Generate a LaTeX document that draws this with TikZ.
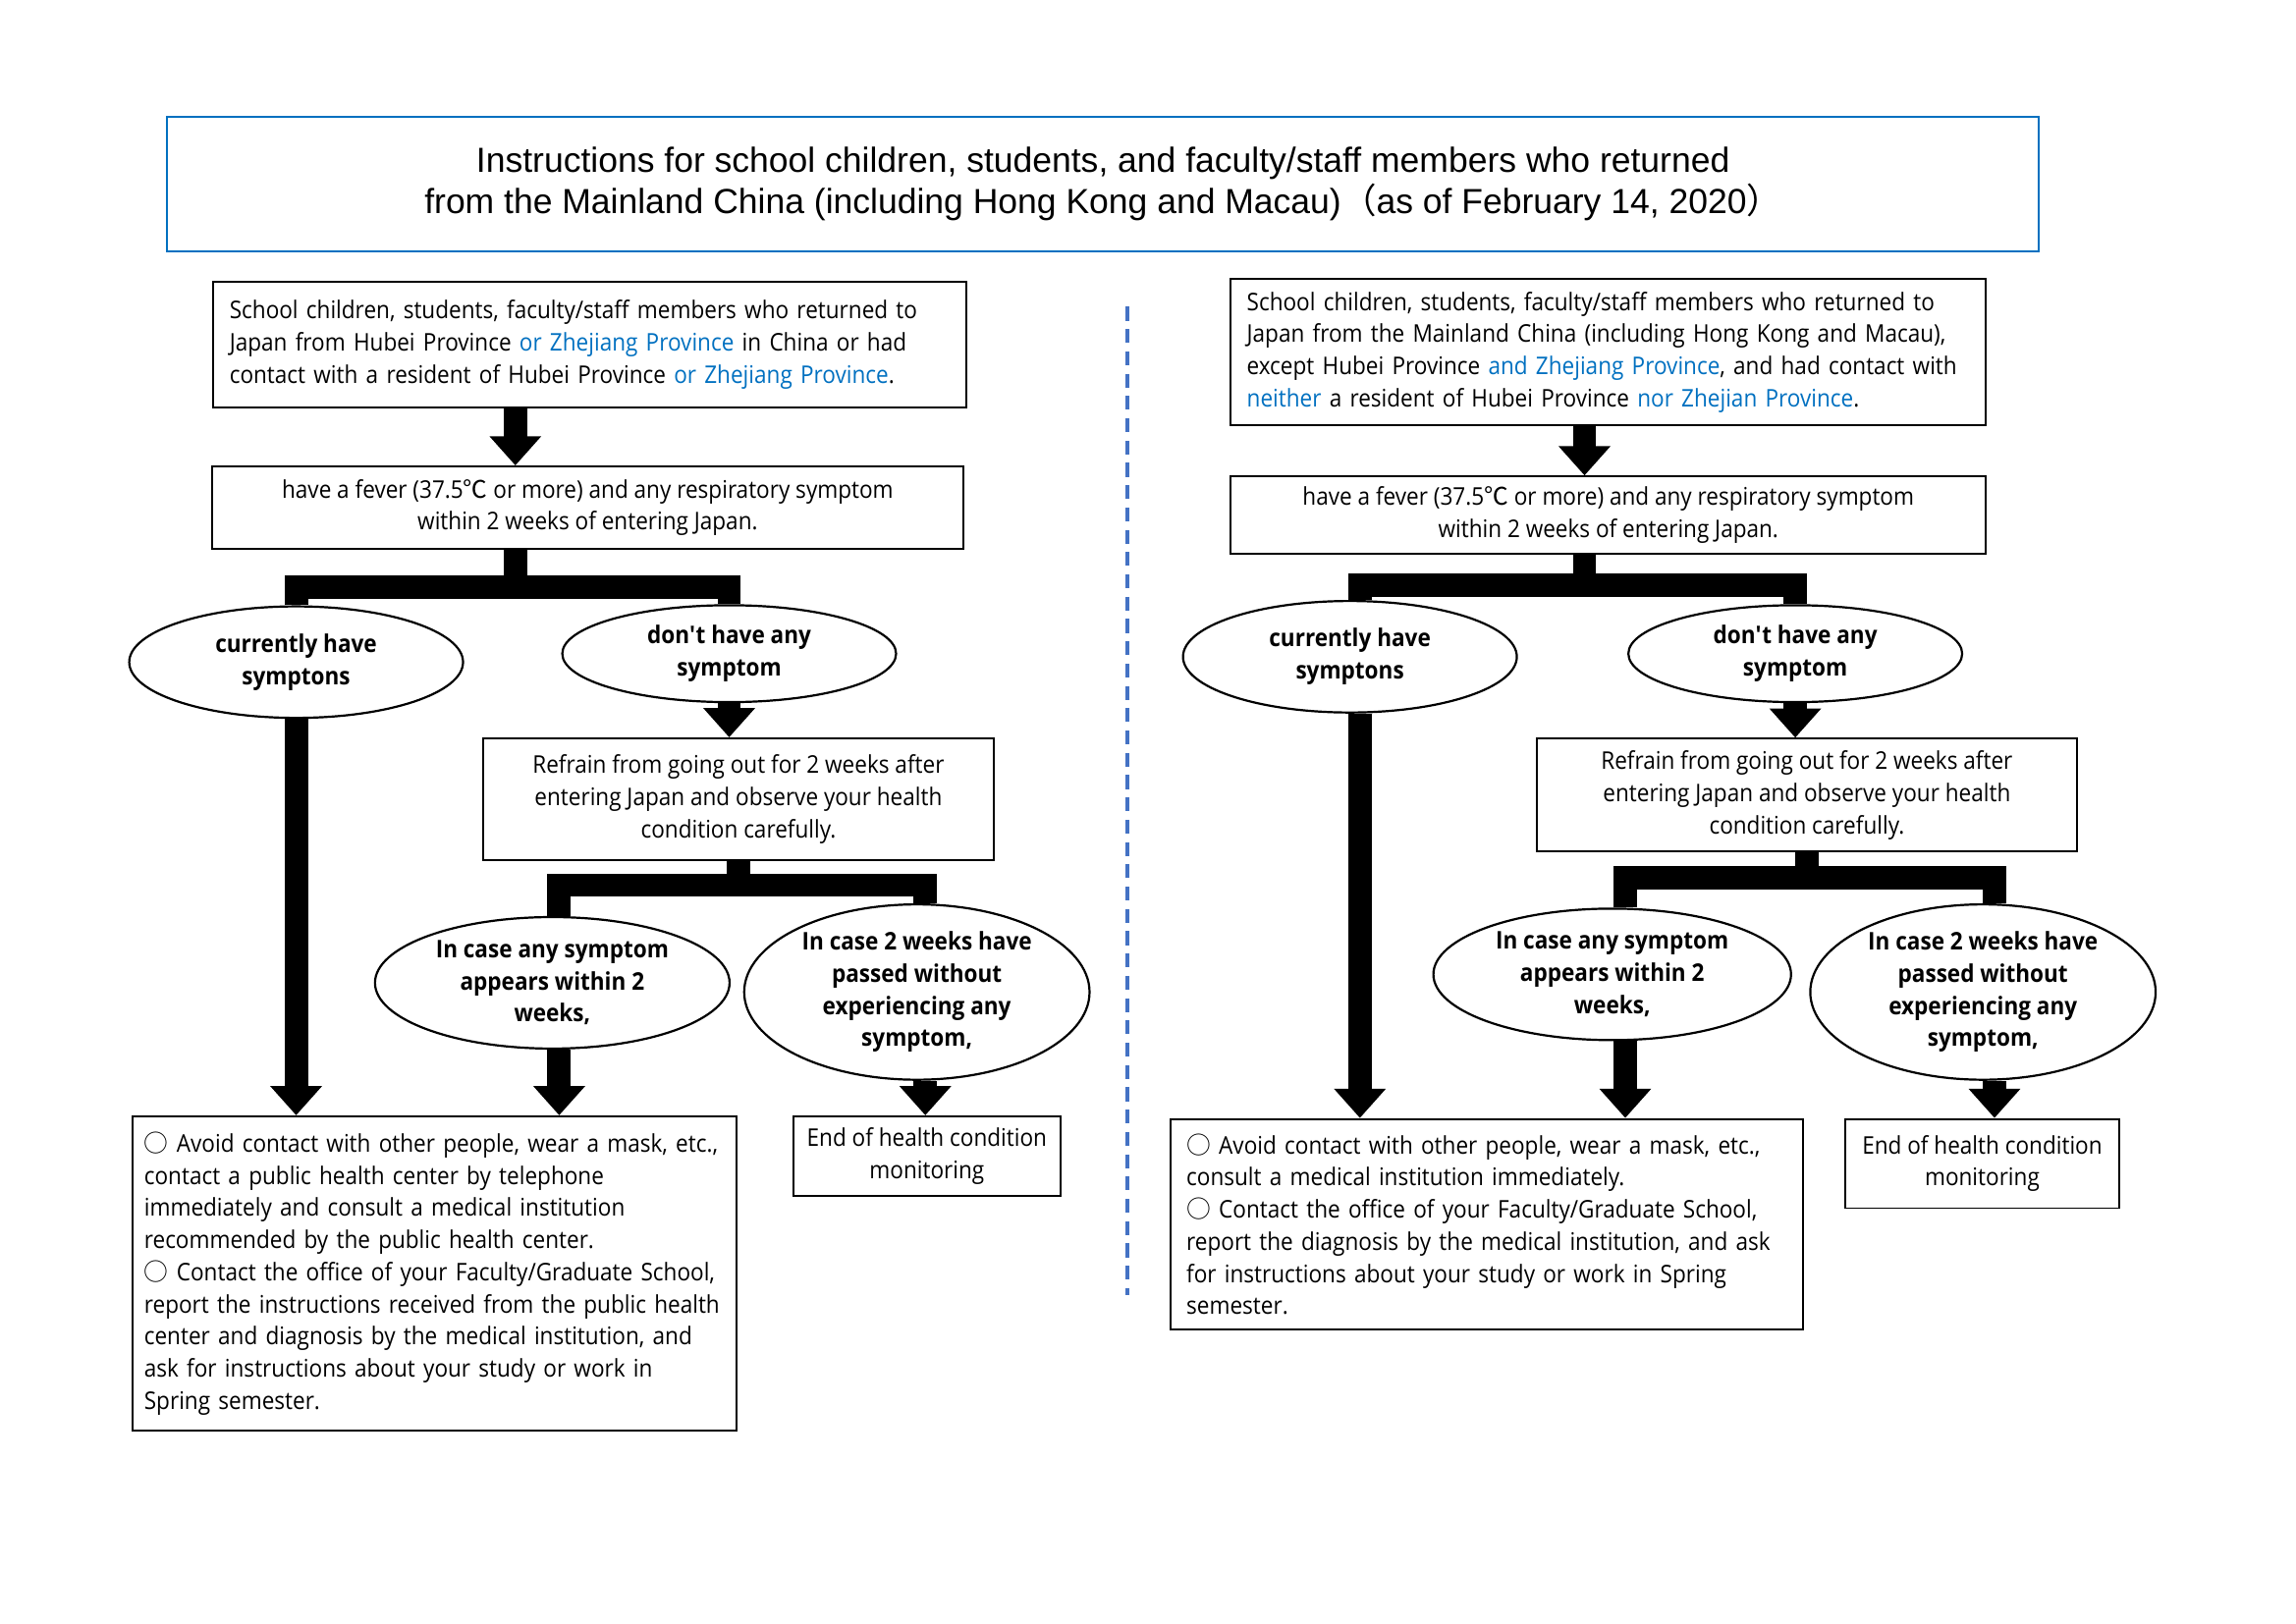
\documentclass[tikz,border=0pt]{standalone}
\usepackage{fontspec}
\setmainfont[FakeStretch=0.91]{Open Sans}
\newfontfamily\titlefont{Liberation Sans}
\newfontfamily\cjk{Noto Sans CJK JP}
\usepackage{tikz}
\usetikzlibrary{positioning,calc,shapes,arrows.meta}
\definecolor{myblue}{RGB}{0,112,192}
\definecolor{mydash}{RGB}{68,114,196}
\tikzstyle{panel}=[draw,line width=0.7pt,align=left,inner xsep=0.21cm,inner ysep=2pt]
\tikzstyle{cpanel}=[draw,line width=0.7pt,align=center,inner sep=2pt]
\tikzstyle{choice}=[draw,ellipse,line width=0.8pt,align=center,inner sep=0pt,font=\bfseries\fontsize{9}{11.9}\selectfont]
\tikzstyle{flow}=[line width=0.305cm,-{Triangle[width=0.65cm,length=0.38cm]}]
\tikzstyle{fork}=[line width=0.305cm]

\begin{document}
\begin{tikzpicture}[font=\fontsize{9}{11.9}\selectfont]
\useasboundingbox (0,-0.106) rectangle (29.85,21.0);
\node (T) [draw=myblue,line width=0.8pt,minimum width=24.33cm,minimum height=1.75cm,align=center,font=\titlefont\fontsize{12.9}{15.4}\selectfont] at (14.34,18.61) {Instructions for school children, students, and faculty/staff members who returned\\from the Mainland China (including Hong Kong and Macau){\cjk （}as of February 14, 2020{\cjk ）}};

\node (A) [panel,text width=9.37cm,minimum height=1.64cm] at (7.67,16.52) {School children, students, faculty/staff members who returned to\\Japan from Hubei Province \textcolor{myblue}{or Zhejiang Province} in China or had\\contact with a resident of Hubei Province \textcolor{myblue}{or Zhejiang Province}.};
\node (B) [cpanel,minimum width=9.77cm,minimum height=1.07cm] at (7.64,14.40) {have a fever (37.5{\cjk ℃} or more) and any respiratory symptom\\within 2 weeks of entering Japan.};
\node (C) [choice,minimum width=4.34cm,minimum height=1.45cm] at (3.85,12.39) {currently have\\symptons};
\node (D) [choice,minimum width=4.34cm,minimum height=1.26cm] at (9.48,12.50) {don\textquotesingle t have any\\symptom};
\node (E) [cpanel,minimum width=6.63cm,minimum height=1.58cm] at (9.60,10.61) {Refrain from going out for 2 weeks after\\entering Japan and observe your health\\condition carefully.};
\node (F) [choice,minimum width=4.61cm,minimum height=1.71cm] at (7.18,8.22) {In case any symptom\\appears within 2\\weeks,};
\node (G) [choice,minimum width=4.49cm,minimum height=2.28cm] at (11.92,8.10) {In case 2 weeks have\\passed without\\experiencing any\\symptom,};
\node (H) [panel,inner xsep=0.155cm,text width=7.55cm,minimum height=4.09cm] at (5.65,4.44) {{\cjk ○} Avoid contact with other people, wear a mask, etc.,\\contact a public health center by telephone\\immediately and consult a medical institution\\recommended by the public health center.\\{\cjk ○} Contact the office of your Faculty/Graduate School,\\report the instructions received from the public health\\center and diagnosis by the medical institution, and\\ask for instructions about your study or work in\\Spring semester.};
\node (I) [cpanel,minimum width=3.47cm,minimum height=1.03cm] at (12.05,5.97) {End of health condition\\monitoring};

\node (A2) [panel,text width=9.40cm,minimum height=1.90cm] at (20.91,16.42) {School children, students, faculty/staff members who returned to\\Japan from the Mainland China (including Hong Kong and Macau),\\except Hubei Province \textcolor{myblue}{and Zhejiang Province}, and had contact with\\\textcolor{myblue}{neither} a resident of Hubei Province \textcolor{myblue}{nor Zhejian Province}.};
\node (B2) [cpanel,minimum width=9.82cm,minimum height=1.01cm] at (20.91,14.30) {have a fever (37.5{\cjk ℃} or more) and any respiratory symptom\\within 2 weeks of entering Japan.};
\node (C2) [choice,minimum width=4.34cm,minimum height=1.45cm] at (17.55,12.46) {currently have\\symptons};
\node (D2) [choice,minimum width=4.34cm,minimum height=1.26cm] at (23.34,12.50) {don\textquotesingle t have any\\symptom};
\node (E2) [cpanel,minimum width=7.03cm,minimum height=1.47cm] at (23.49,10.66) {Refrain from going out for 2 weeks after\\entering Japan and observe your health\\condition carefully.};
\node (F2) [choice,minimum width=4.65cm,minimum height=1.71cm] at (20.96,8.33) {In case any symptom\\appears within 2\\weeks,};
\node (G2) [choice,minimum width=4.49cm,minimum height=2.28cm] at (25.78,8.10) {In case 2 weeks have\\passed without\\experiencing any\\symptom,};
\node (H2) [panel,text width=7.81cm,minimum height=2.74cm] at (19.33,5.08) {{\cjk ○} Avoid contact with other people, wear a mask, etc.,\\consult a medical institution immediately.\\{\cjk ○} Contact the office of your Faculty/Graduate School,\\report the diagnosis by the medical institution, and ask\\for instructions about your study or work in Spring\\semester.};
\node (I2) [cpanel,minimum width=3.56cm,minimum height=1.16cm] at (25.77,5.87) {End of health condition\\monitoring};

\coordinate (a) at (6.70,0);
\coordinate (f) at (7.27,0);
\coordinate (g) at (12.03,0);
\coordinate (k) at (0,13.37);
\coordinate (m) at (0,9.49);
\coordinate (c2) at (17.68,0);
\coordinate (a2) at (20.60,0);
\coordinate (f2) at (21.13,0);
\coordinate (g2) at (25.93,0);
\coordinate (k2) at (0,13.39);
\coordinate (m2) at (0,9.59);

\draw[flow] (A.south -| a) -- (B.north -| a);
\draw[fork] (B.south -| a) -- (k -| a);
\draw[fork] (C.north) -- (k -| C) -- (k -| D) -- (D.north);
\draw[flow] (D.south) -- (E.north -| D);
\draw[fork] (E.south) -- (m -| E);
\draw[fork] (F.north -| f) -- (m -| f) -- (m -| g) -- (G.north -| g);
\draw[flow] (C.south) -- (H.north -| C);
\draw[flow] (F.south -| f) -- (H.north -| f);
\draw[flow] (G.south -| g) -- (I.north -| g);

\draw[flow] (A2.south -| a2) -- (B2.north -| a2);
\draw[fork] (B2.south -| a2) -- (k2 -| a2);
\draw[fork] (C2.north -| c2) -- (k2 -| c2) -- (k2 -| D2) -- (D2.north);
\draw[flow] (D2.south) -- (E2.north -| D2);
\draw[fork] (E2.south) -- (m2 -| E2);
\draw[fork] (F2.north -| f2) -- (m2 -| f2) -- (m2 -| g2) -- (G2.north -| g2);
\draw[flow] (C2.south -| c2) -- (H2.north -| c2);
\draw[flow] (F2.south -| f2) -- (H2.north -| f2);
\draw[flow] (G2.south -| g2) -- (I2.north -| g2);

\draw[mydash,line width=1.4pt,dash pattern=on 0.18cm off 0.11cm] (14.66,17.01) -- (14.66,4.16);
\end{tikzpicture}
\end{document}
